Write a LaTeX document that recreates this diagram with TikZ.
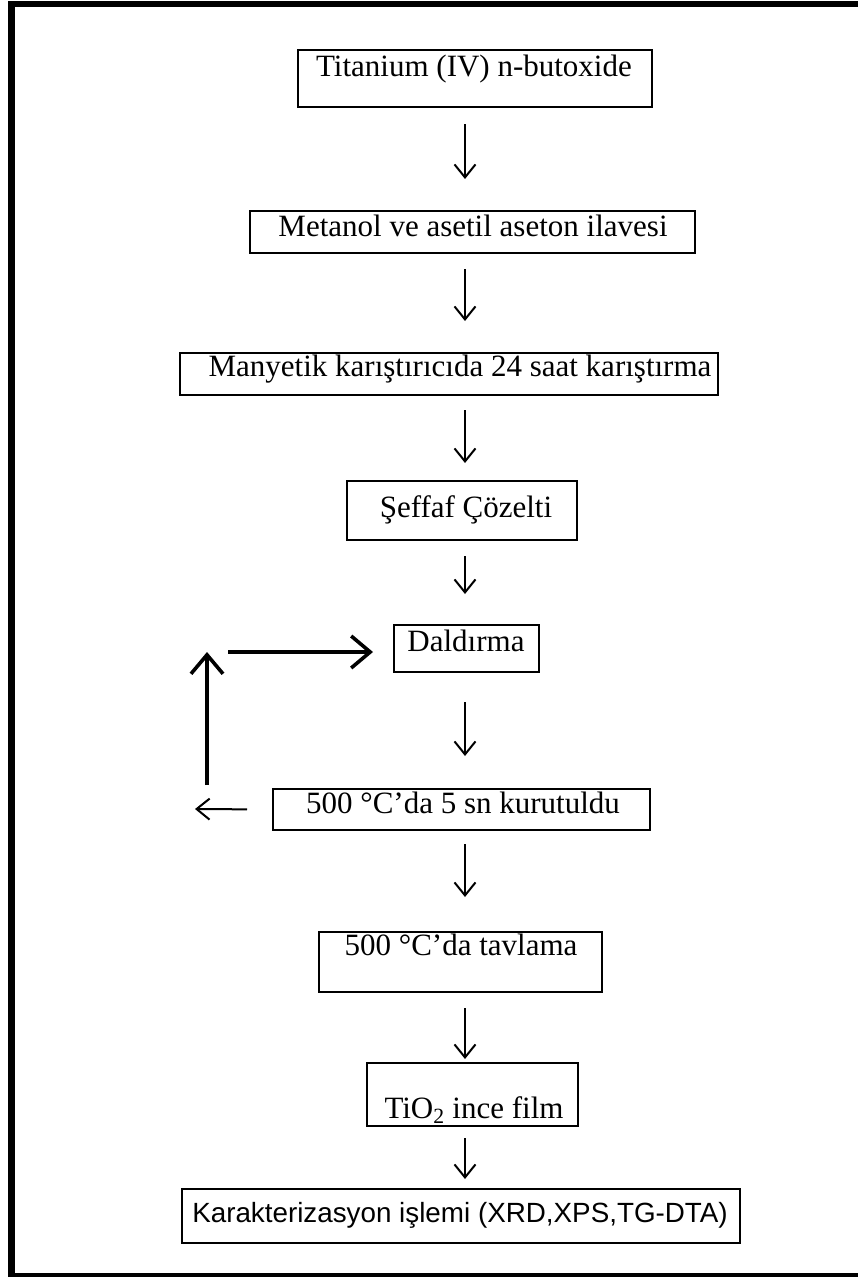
\documentclass[tikz,border=0pt]{standalone}
\usepackage{fontspec}
\setmainfont{Liberation Serif}
\newfontfamily\sansf{Liberation Sans}
\usetikzlibrary{arrows.meta}
\tikzset{
  box/.style={draw=black, line width=2pt, rectangle, inner sep=0pt},
  lbl/.style={anchor=base, inner sep=0pt, font=\fontsize{31}{37}\selectfont},
  slbl/.style={anchor=base, inner sep=0pt, font=\sansf\fontsize{27.8}{33}\selectfont},
  thinarr/.style={line width=2pt, -{Straight Barb[length=13pt,width=21pt,line width=2pt]}},
  thickarr/.style={line width=3.6pt, -{Straight Barb[length=19pt,width=32pt,line width=3.6pt]}},
  frame/.style={line width=6.5pt},
}
\begin{document}
\begin{tikzpicture}[x=1pt,y=-1pt]
\fill[white] (0,0) rectangle (858,1277);
\useasboundingbox (0,0) rectangle (858,1277);
\coordinate (f1) at (864,4);
\coordinate (f2) at (11.5,4);
\coordinate (f3) at (11.5,1276);
\coordinate (f4) at (864,1276);
\draw[frame] (f1) -- (f2) -- (f3) -- (f4);
% boxes
\node[box, minimum width=354pt, minimum height=57pt] (b1) at (475,78.5) {};
\node[box, minimum width=445pt, minimum height=42pt] (b2) at (472.5,232) {};
\node[box, minimum width=538pt, minimum height=42pt] (b3) at (449,374) {};
\node[box, minimum width=230pt, minimum height=59pt] (b4) at (462,510.5) {};
\node[box, minimum width=145pt, minimum height=47pt] (b5) at (466.5,648.5) {};
\node[box, minimum width=377pt, minimum height=41pt] (b6) at (461.5,809.5) {};
\node[box, minimum width=283pt, minimum height=60pt] (b7) at (460.5,962) {};
\node[box, minimum width=211pt, minimum height=63pt] (b8) at (472.5,1094.5) {};
\node[box, minimum width=558pt, minimum height=54pt] (b9) at (461,1216) {};
% texts
\node[lbl] (t1) at (474,76) {Titanium (IV) n-butoxide};
\node[lbl] (t2) at (473,236) {Metanol ve asetil aseton ilavesi};
\node[lbl] (t3) at (460,376) {Manyetik karıştırıcıda 24 saat karıştırma};
\node[lbl] (t4) at (466,517) {Şeffaf Çözelti};
\node[lbl] (t5) at (466,651) {Daldırma};
\node[lbl] (t6) at (463,813) {500 °C’da 5 sn kurutuldu};
\node[lbl] (t7) at (461,955) {500 °C’da tavlama};
\node[lbl] (t8) at (474,1118) {TiO\textsubscript{2} ince film};
\node[slbl] (t9) at (460,1222) {Karakterizasyon işlemi (XRD,XPS,TG-DTA)};
% arrow axis
\coordinate (ax) at (465,0);
\draw[thinarr, shorten <=16pt, shorten >=31pt] (b1.south -| ax) -- (b2.north -| ax);
\draw[thinarr, shorten <=15pt, shorten >=31pt] (b2.south -| ax) -- (b3.north -| ax);
\draw[thinarr, shorten <=14pt, shorten >=17pt] (b3.south -| ax) -- (b4.north -| ax);
\draw[thinarr, shorten <=15pt, shorten >=30pt] (b4.south -| ax) -- (b5.north -| ax);
\draw[thinarr, shorten <=29pt, shorten >=32pt] (b5.south -| ax) -- (b6.north -| ax);
\draw[thinarr, shorten <=13pt, shorten >=34pt] (b6.south -| ax) -- (b7.north -| ax);
\draw[thinarr, shorten <=15pt, shorten >=3pt] (b7.south -| ax) -- (b8.north -| ax);
\draw[thinarr, shorten <=11pt, shorten >=9pt] (b8.south -| ax) -- (b9.north -| ax);
% loop
\coordinate (c1) at (195,809);
\coordinate (c2) at (207,785);
\coordinate (c3) at (207,652);
\coordinate (c4) at (228,652);
\draw[thinarr, shorten <=25pt] (b6.west) -- (c1);
\draw[thickarr] (c2) -- (c3);
\draw[thickarr, shorten >=20pt] (c4) -- (c4 -| b5.west);
\end{tikzpicture}
\end{document}
